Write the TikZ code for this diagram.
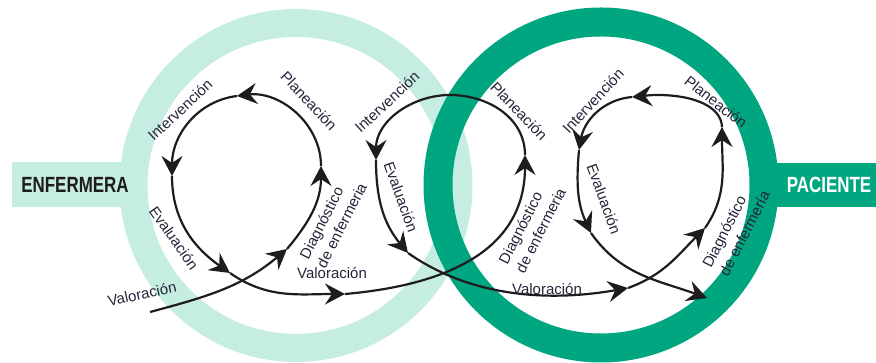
\documentclass[tikz,border=0pt]{standalone}
\usepackage{fontspec}
\setmainfont{Liberation Sans}
\newfontface\condbold[FakeStretch=0.77]{Liberation Sans Bold}
\usetikzlibrary{arrows.meta}
\definecolor{lightring}{RGB}{197,237,226}
\definecolor{darkring}{RGB}{0,166,128}
\definecolor{ink}{RGB}{30,28,30}
\definecolor{labelink}{RGB}{38,36,56}
\begin{document}
\begin{tikzpicture}[x=1pt,y=1pt,
  lbl/.style={font=\fontsize{15}{19}\selectfont, text=labelink, inner sep=0pt},
  title/.style={font=\condbold\fontsize{22}{24}\selectfont, inner sep=0pt},
  cyc/.style={line width=2.2pt, draw=ink, -{Stealth[length=20pt,width=21pt,inset=7pt]}}]
\useasboundingbox (0,0) rectangle (876,363);
% rings and boxes
\coordinate (cL) at (296,177.5);
\coordinate (cR) at (601,178);
\draw[draw=lightring, line width=28pt] (cL) circle (162.5);
\fill[lightring] (12,156) rectangle (140,201);
\draw[draw=darkring, line width=29pt] (cR) circle (163);
\fill[darkring] (760,156) rectangle (876,200);
\node[title, text=ink] (enf) at (75,178) {ENFERMERA};
\node[title, text=white] (pac) at (829,178) {PACIENTE};
% spiral coordinates
\coordinate (P0) at (150,51);
\coordinate (A1) at (287,114);
\coordinate (A2) at (321,197);
\coordinate (A3) at (237,267);
\coordinate (A4) at (172,187);
\coordinate (A5) at (230,90);
\coordinate (A6) at (345,69);
\coordinate (A7) at (525,208);
\coordinate (M1) at (450,268);
\coordinate (A8) at (376,203);
\coordinate (A9) at (408,110);
\coordinate (A10) at (628,75);
\coordinate (A11) at (705,135);
\coordinate (A12) at (722,236);
\coordinate (M2) at (657,268);
\coordinate (A13) at (632,266);
\coordinate (A14) at (579,213);
\coordinate (A15) at (591,130);
\coordinate (A16) at (707,65);
% spiral
\draw[cyc] (P0) to[out=15,in=220] (A1);
\draw[cyc] (A1) to[out=50,in=270] (A2);
\draw[cyc] (A2) to[out=90,in=7] (A3);
\draw[cyc] (A3) to[out=187,in=90] (A4);
\draw[cyc] (A4) to[out=270,in=145] (A5);
\draw[cyc] (A5) to[out=-35,in=180] (A6);
\draw[cyc] (A6) to[out=5,in=270,looseness=1.1] (A7);
\draw[cyc] (A7) to[out=90,in=0] (M1) to[out=180,in=90] (A8);
\draw[cyc] (A8) to[out=270,in=130] (A9);
\draw[cyc] (A9) to[out=-35,in=190,looseness=0.9] (A10);
\draw[cyc] (A10) to[out=20,in=225] (A11);
\draw[cyc] (A11) to[out=55,in=270] (A12);
\draw[cyc] (A12) to[out=92,in=0,out distance=20pt,in distance=38pt] (M2) to[out=180,in=4] (A13);
\draw[cyc] (A13) to[out=185,in=80] (A14);
\draw[cyc] (A14) to[out=265,in=115] (A15);
\draw[cyc] (A15) to[out=-55,in=160] (A16);
% labels left loop
\node[lbl, rotate=43] (intL) at (180,253) {Intervención};
\node[lbl, rotate=-47] (plaL) at (309,262) {Planeación};
\node[lbl, rotate=-55] (evaL) at (174,125) {Evaluación};
\node[lbl, rotate=12] (valBL) at (142,69) {Valoración};
\node[lbl, rotate=63, align=left] (diaL) at (333,142) {Diagnóstico\\de enfermeria};
\node[lbl, anchor=base] (valM) at (332,84) {Valoración};
% middle loop
\node[lbl, rotate=43] (intM) at (387,261) {Intervención};
\node[lbl, rotate=-46] (plaM) at (519,252) {Planeación};
\node[lbl, rotate=-70] (evaM) at (401,166) {Evaluación};
\node[lbl, rotate=63, align=left] (diaM) at (532,137) {Diagnóstico\\de enfermeria};
\node[lbl, anchor=base] (valR) at (547,68) {Valoración};
% right loop
\node[lbl, rotate=47] (intR) at (593,262) {Intervención};
\node[lbl, rotate=-38] (plaR) at (716,261) {Planeación};
\node[lbl, rotate=-70] (evaR) at (604,164) {Evaluación};
\node[lbl, rotate=63, align=left] (diaR) at (736,134) {Diagnóstico\\de enfermería};
\end{tikzpicture}
\end{document}
